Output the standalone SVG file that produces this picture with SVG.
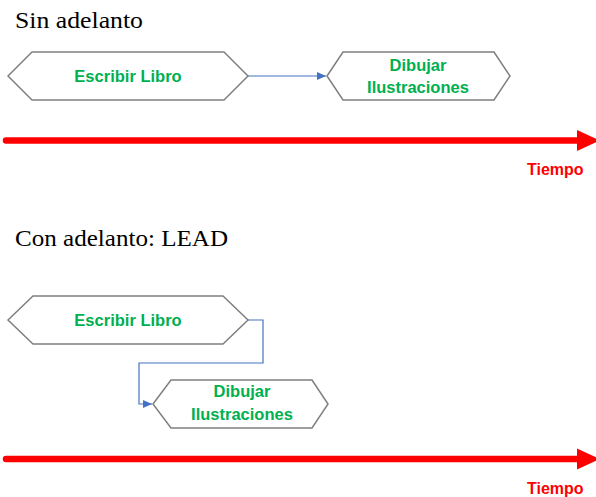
<svg xmlns="http://www.w3.org/2000/svg" width="596" height="497" viewBox="0 0 596 497">
<style>
.title{font-family:"Liberation Serif","DejaVu Serif",serif;font-size:23px;fill:#000}
.hex{fill:#fff;stroke:#7f7f7f;stroke-width:1.5}
.lbl{font-family:"Liberation Sans",Arial,sans-serif;font-weight:bold;font-size:16.5px;fill:#00B050;text-anchor:middle}
.time{font-family:"Liberation Sans",Arial,sans-serif;font-weight:bold;font-size:16px;fill:#FF0000}
.conn{fill:none;stroke:#4472C4;stroke-width:1.2}
.axis{stroke:#FF0000;stroke-width:6.5;stroke-linecap:round}
</style>
<defs>
<marker id="arr" markerWidth="9" markerHeight="8" refX="9" refY="4" orient="auto" markerUnits="userSpaceOnUse">
<path d="M0,0 L9,4 L0,8 Z" fill="#4472C4"/>
</marker>
</defs>
<rect width="596" height="497" fill="#fff"/>
<text class="title" x="15" y="28" textLength="128" lengthAdjust="spacingAndGlyphs">Sin adelanto</text>
<text class="title" x="15" y="246" textLength="213" lengthAdjust="spacingAndGlyphs">Con adelanto: LEAD</text>

<g id="connectors">
<path class="conn" d="M248,76 L326,76" marker-end="url(#arr)"/>
<path class="conn" d="M248,320 L263,320 L263,363 L139,363 L139,404 L152,404" marker-end="url(#arr)"/>
</g>

<g id="axis1">
<line class="axis" x1="6" y1="140.5" x2="580" y2="140.5"/>
<polygon points="577,130 600,140.5 577,151" fill="#FF0000"/>
<text class="time" x="527" y="175">Tiempo</text>
</g>
<g id="axis2">
<line class="axis" x1="6" y1="459" x2="580" y2="459"/>
<polygon points="577,448.5 600,459 577,469.5" fill="#FF0000"/>
<text class="time" x="527" y="494">Tiempo</text>
</g>

<g id="escribir1">
<polygon class="hex" points="8,76 32,52 224,52 248,76 224,100 32,100"/>
<text class="lbl" x="128" y="82">Escribir Libro</text>
</g>
<g id="dibujar1">
<polygon class="hex" points="327,76 343,52 494,52 510,76 494,100 343,100"/>
<text class="lbl" x="418" y="71">Dibujar</text>
<text class="lbl" x="418" y="93">Ilustraciones</text>
</g>
<g id="escribir2">
<polygon class="hex" points="8,320 33,296 223,296 248,320 223,344 33,344"/>
<text class="lbl" x="128" y="326">Escribir Libro</text>
</g>
<g id="dibujar2">
<polygon class="hex" points="153,404 171,380 312,380 328,404 312,428 171,428"/>
<text class="lbl" x="242" y="397">Dibujar</text>
<text class="lbl" x="242" y="420">Ilustraciones</text>
</g>
</svg>
